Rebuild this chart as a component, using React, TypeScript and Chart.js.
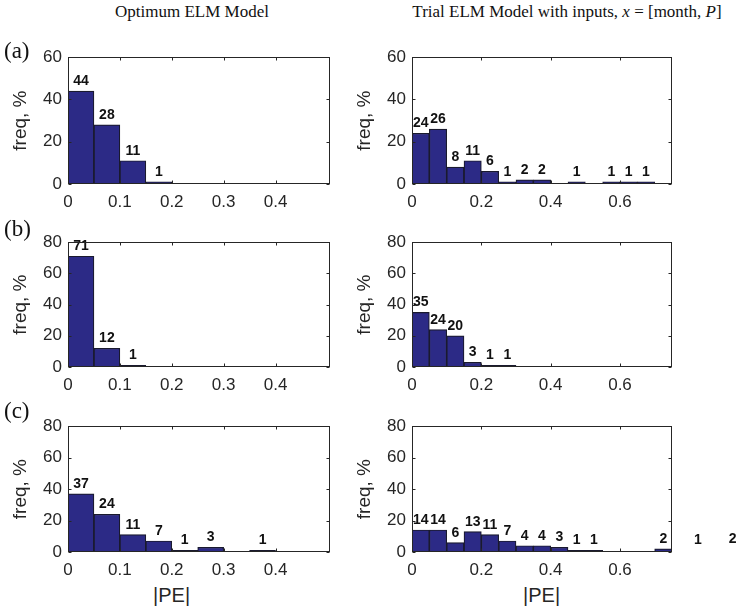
import React, { useEffect, useRef } from 'react';
import { Chart, registerables } from 'chart.js';
Chart.register(...registerables);

// ---- data (bin centres of |PE| and frequency %) ----
const A_OPT_PE = [0.025, 0.075, 0.125, 0.175];
const A_OPT_FREQ = [44, 28, 11, 1];
const A_TRIAL_PE = [0.025, 0.075, 0.125, 0.175, 0.225, 0.275, 0.325, 0.375, 0.475, 0.575, 0.625, 0.675];
const A_TRIAL_FREQ = [24, 26, 8, 11, 6, 1, 2, 2, 1, 1, 1, 1];
const B_OPT_PE = [0.025, 0.075, 0.125];
const B_OPT_FREQ = [71, 12, 1];
const B_TRIAL_PE = [0.025, 0.075, 0.125, 0.175, 0.225, 0.275];
const B_TRIAL_FREQ = [35, 24, 20, 3, 1, 1];
const C_OPT_PE = [0.025, 0.075, 0.125, 0.175, 0.225, 0.275, 0.375];
const C_OPT_FREQ = [37, 24, 11, 7, 1, 3, 1];
const C_TRIAL_PE = [0.025, 0.075, 0.125, 0.175, 0.225, 0.275, 0.325, 0.375, 0.425, 0.475, 0.525, 0.725, 0.825, 0.925];
const C_TRIAL_FREQ = [14, 14, 6, 13, 11, 7, 4, 4, 3, 1, 1, 2, 1, 2];

const OPT_X_TICKS = [0, 0.1, 0.2, 0.3, 0.4];
const TRIAL_X_TICKS = [0, 0.2, 0.4, 0.6];
const Y_TICKS_60 = [0, 20, 40, 60];
const Y_TICKS_80 = [0, 20, 40, 60, 80];
const OPT_X_MAX = 0.505;
const TRIAL_X_MAX = 0.75;

const BAR_COLOR = '#2c2a86';
const AXIS_COLOR = '#262626';
const SANS = '"Liberation Sans", Arial, sans-serif';
const SERIF = '"Liberation Serif", "Times New Roman", serif';

const Y_W = 68;
const PAD_T = 14;
const X_H = 30;

const framePlugin = {
  id: 'frame',
  afterDatasetsDraw(chart: any) {
    const { ctx, chartArea: a, scales } = chart;
    ctx.save();
    // value labels
    const meta = chart.getDatasetMeta(0);
    const vals = chart.data.datasets[0].data;
    ctx.fillStyle = '#111';
    ctx.font = `bold 14px ${SANS}`;
    ctx.textAlign = 'center';
    ctx.textBaseline = 'alphabetic';
    meta.data.forEach((el: any, i: number) => {
      const v = vals[i].y;
      ctx.fillText(String(v), el.x, el.y - 6);
    });
    // box
    ctx.strokeStyle = AXIS_COLOR;
    ctx.lineWidth = 1;
    const l = Math.round(a.left) + 0.5, r = Math.round(a.right) - 0.5;
    const t = Math.round(a.top) + 0.5, b = Math.round(a.bottom) - 0.5;
    ctx.strokeRect(l, t, r - l, b - t);
    const L = 3;
    ctx.beginPath();
    scales.x.ticks.forEach((tk: any) => {
      const px = Math.round(scales.x.getPixelForValue(tk.value)) + 0.5;
      ctx.moveTo(px, b); ctx.lineTo(px, b - L);
      ctx.moveTo(px, t); ctx.lineTo(px, t + L);
    });
    scales.y.ticks.forEach((tk: any) => {
      const py = Math.round(scales.y.getPixelForValue(tk.value)) + 0.5;
      ctx.moveTo(l, py); ctx.lineTo(l + L, py);
      ctx.moveTo(r, py); ctx.lineTo(r - L, py);
    });
    ctx.stroke();
    ctx.restore();
  },
};

type PanelProps = {
  pe: number[]; freq: number[]; xMax: number; xTicks: number[]; yMax: number; yTicks: number[];
  plotLeft: number; plotTop: number; plotW: number; plotH: number; padR: number;
};

function Panel(p: PanelProps) {
  const ref = useRef<HTMLCanvasElement>(null);
  const width = Y_W + p.plotW + p.padR;
  const height = PAD_T + p.plotH + X_H;
  useEffect(() => {
    if (!ref.current) return;
    const chart = new Chart(ref.current, {
      type: 'bar',
      data: {
        datasets: [{
          data: p.pe.map((x, i) => ({ x, y: p.freq[i] })),
          backgroundColor: BAR_COLOR,
          borderColor: '#1a1a2e',
          borderWidth: 1.2,
          barPercentage: 1,
          categoryPercentage: 1,
        }],
      },
      options: {
        responsive: false,
        animation: false,
        devicePixelRatio: 1,
        layout: { padding: { top: PAD_T, right: p.padR, left: 0, bottom: 0 } },
        plugins: { legend: { display: false }, tooltip: { enabled: false } },
        scales: {
          x: {
            type: 'linear',
            min: 0,
            max: p.xMax,
            offset: false,
            grid: { display: false, drawTicks: false },
            border: { display: false },
            afterBuildTicks: (s: any) => { s.ticks = p.xTicks.map((v) => ({ value: v })); },
            afterFit: (s: any) => { s.height = X_H; },
            ticks: {
              padding: 8,
              color: AXIS_COLOR,
              font: { family: SANS, size: 17 },
              callback: (v: any) => String(+Number(v).toFixed(2)),
              maxRotation: 0,
              autoSkip: false,
            },
          },
          y: {
            type: 'linear',
            min: 0,
            max: p.yMax,
            grid: { display: false, drawTicks: false },
            border: { display: false },
            afterBuildTicks: (s: any) => { s.ticks = p.yTicks.map((v) => ({ value: v })); },
            afterFit: (s: any) => { s.width = Y_W; },
            ticks: {
              padding: 6,
              color: AXIS_COLOR,
              font: { family: SANS, size: 17 },
              callback: (v: any) => String(v),
              autoSkip: false,
            },
            title: {
              display: true,
              text: 'freq, %',
              color: AXIS_COLOR,
              font: { family: SANS, size: 19 },
              padding: { top: 9, bottom: 0 },
            },
          },
        },
      },
      plugins: [framePlugin],
    } as any);
    return () => chart.destroy();
  }, []);
  return (
    <canvas
      ref={ref}
      width={width}
      height={height}
      style={{ position: 'absolute', left: p.plotLeft - Y_W, top: p.plotTop - PAD_T, width, height }}
    />
  );
}

const txt = (style: React.CSSProperties, children: React.ReactNode) => (
  <div style={{ position: 'absolute', whiteSpace: 'nowrap', lineHeight: 1, ...style }}>{children}</div>
);

export default function App() {
  const LEFT = 68, RIGHT = 412, LW = 262, RW = 260;
  const LPAD = 10, RPAD = 78;
  const rows = [
    { top: 55, h: 129 },
    { top: 240, h: 127 },
    { top: 424, h: 128 },
  ];
  return (
    <div style={{ position: 'absolute', left: 0, top: 0, width: 750, height: 610, background: '#fff', overflow: 'hidden' }}>
      <Panel pe={A_OPT_PE} freq={A_OPT_FREQ} xMax={OPT_X_MAX} xTicks={OPT_X_TICKS} yMax={60} yTicks={Y_TICKS_60}
        plotLeft={LEFT} plotTop={rows[0].top} plotW={LW} plotH={rows[0].h} padR={LPAD} />
      <Panel pe={A_TRIAL_PE} freq={A_TRIAL_FREQ} xMax={TRIAL_X_MAX} xTicks={TRIAL_X_TICKS} yMax={60} yTicks={Y_TICKS_60}
        plotLeft={RIGHT} plotTop={rows[0].top} plotW={RW} plotH={rows[0].h} padR={RPAD} />
      <Panel pe={B_OPT_PE} freq={B_OPT_FREQ} xMax={OPT_X_MAX} xTicks={OPT_X_TICKS} yMax={80} yTicks={Y_TICKS_80}
        plotLeft={LEFT} plotTop={rows[1].top} plotW={LW} plotH={rows[1].h} padR={LPAD} />
      <Panel pe={B_TRIAL_PE} freq={B_TRIAL_FREQ} xMax={TRIAL_X_MAX} xTicks={TRIAL_X_TICKS} yMax={80} yTicks={Y_TICKS_80}
        plotLeft={RIGHT} plotTop={rows[1].top} plotW={RW} plotH={rows[1].h} padR={RPAD} />
      <Panel pe={C_OPT_PE} freq={C_OPT_FREQ} xMax={OPT_X_MAX} xTicks={OPT_X_TICKS} yMax={80} yTicks={Y_TICKS_80}
        plotLeft={LEFT} plotTop={rows[2].top} plotW={LW} plotH={rows[2].h} padR={LPAD} />
      <Panel pe={C_TRIAL_PE} freq={C_TRIAL_FREQ} xMax={TRIAL_X_MAX} xTicks={TRIAL_X_TICKS} yMax={80} yTicks={Y_TICKS_80}
        plotLeft={RIGHT} plotTop={rows[2].top} plotW={RW} plotH={rows[2].h} padR={RPAD} />

      {txt({ left: 192, top: 3, transform: 'translateX(-50%)', fontFamily: SERIF, fontSize: 17, color: '#111' }, 'Optimum ELM Model')}
      {txt({ left: 567, top: 3, transform: 'translateX(-50%)', fontFamily: SERIF, fontSize: 17, color: '#111' },
        <>Trial ELM Model with inputs, <i>x</i> = [month, <i>P</i>]</>)}
      {txt({ left: 4, top: 39, fontFamily: SERIF, fontSize: 23, color: '#111' }, '(a)')}
      {txt({ left: 4, top: 217, fontFamily: SERIF, fontSize: 23, color: '#111' }, '(b)')}
      {txt({ left: 4, top: 399, fontFamily: SERIF, fontSize: 23, color: '#111' }, '(c)')}
      {txt({ left: 153, top: 585, fontFamily: SANS, fontSize: 20, color: AXIS_COLOR }, '|PE|')}
      {txt({ left: 523, top: 585, fontFamily: SANS, fontSize: 20, color: AXIS_COLOR }, '|PE|')}
    </div>
  );
}
